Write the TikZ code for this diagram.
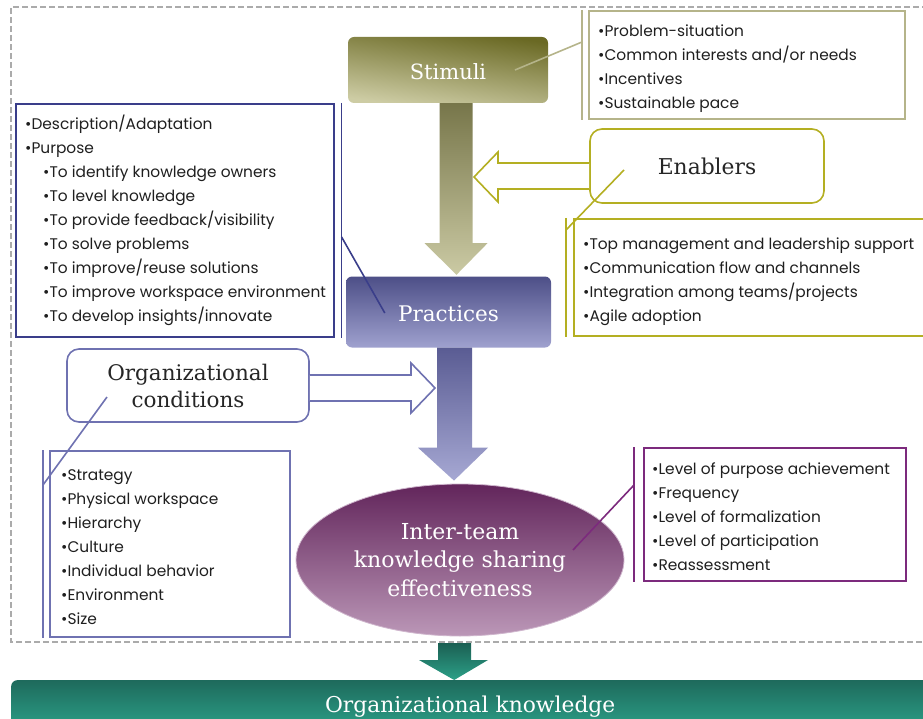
\documentclass[tikz,border=0pt]{standalone}
\usepackage{fontspec}
\setmainfont{DejaVu Serif}
\newfontfamily\listfont{Poppins}
\usetikzlibrary{calc,shapes.geometric}

\definecolor{stimdark}{HTML}{6A6924}
\definecolor{stimlight}{HTML}{CDCCA4}
\definecolor{stimline}{HTML}{B5B48A}
\definecolor{arrowolivetop}{HTML}{77764A}
\definecolor{arrowolivebot}{HTML}{CBCAA4}
\definecolor{enabcol}{HTML}{B4AF22}
\definecolor{pracdark}{HTML}{4D4F87}
\definecolor{praclight}{HTML}{9FA1CF}
\definecolor{navyline}{HTML}{3A3E8A}
\definecolor{orgline}{HTML}{6F72B1}
\definecolor{arrowbluetop}{HTML}{5A5C93}
\definecolor{arrowbluebot}{HTML}{A6A8D3}
\definecolor{ellipsedark}{HTML}{62255B}
\definecolor{ellipselight}{HTML}{BB97B7}
\definecolor{effline}{HTML}{7C2A7D}
\definecolor{tealdark}{HTML}{1E6A5C}
\definecolor{teallight}{HTML}{2CA088}
\definecolor{bordergray}{HTML}{ABABAB}

\newcommand{\bl}{\textbullet}
\newcommand{\sub}{\hspace*{18pt}\textbullet}

\tikzset{
  headtext/.style={font=\fontsize{21.5}{27}\selectfont},
  listframe/.style={draw, line width=1.6pt, anchor=north west, fill=white, inner sep=0pt},
  listtext/.style={anchor=west, align=left, inner sep=0pt,
    font=\listfont\fontsize{15.4}{24}\selectfont, text=black!88},
  lowered/.style={execute at begin node={\vspace*{#1}}},
  sidebar/.style={line width=1.6pt},
  linkline/.style={line width=1.6pt},
  hollowarrow/.style={line width=1.6pt, fill=white, line join=miter},
}

\begin{document}
\begin{tikzpicture}[x=1pt,y=-1pt]
\useasboundingbox (0,0) rectangle (923,719);
\clip (0,0) rectangle (923,719);

% dashed frame around the model
\draw[bordergray, line width=1.2pt, dash pattern=on 6pt off 3pt]
  (940,642) -- (11,642) -- (11,7) -- (940,7);

% ---- main boxes ----
\node[headtext, text=white, rounded corners=6pt, minimum width=200pt, minimum height=66pt,
  top color=stimdark, bottom color=stimlight, shading angle=-8, text height=19pt, text depth=0pt,
  font=\fontsize{21}{27}\selectfont] (stim) at (448,70) {Stimuli};
\node[headtext, text=white, rounded corners=6pt, minimum width=205pt, minimum height=71pt,
  top color=pracdark, bottom color=praclight, text height=18pt, text depth=0pt] (prac) at (448.5,312) {Practices};
\node[headtext, text=black!85, rounded corners=12pt, draw=enabcol, line width=1.6pt, fill=white,
  minimum width=234pt, minimum height=74pt, font=\fontsize{21.8}{27}\selectfont] (enab) at (707,166) {Enablers};
\node[headtext, text=black!85, rounded corners=12pt, draw=orgline, line width=1.6pt, fill=white,
  minimum width=242pt, minimum height=73pt, align=center, lowered=9pt] (orgc) at (188,385.5) {Organizational\\conditions};
\node[headtext, text=white, ellipse, minimum width=328pt, minimum height=152pt, align=center,
  top color=ellipsedark, bottom color=ellipselight, draw=ellipselight!70!white, line width=0.8pt,
  font=\fontsize{22}{28.5}\selectfont, lowered=6pt] (eff) at (460,560)
  {Inter-team\\knowledge sharing\\effectiveness};
\node[headtext, text=white, rounded corners=6pt, anchor=north west, minimum width=918pt, minimum height=50pt,
  top color=tealdark, bottom color=teallight, text height=18pt, text depth=4pt,
  font=\fontsize{21.8}{24}\selectfont] (orgk) at (11,680)
  {Organizational knowledge};

% ---- block arrows ----
\shade[top color=arrowolivetop, bottom color=arrowolivebot]
  ($(stim.south)+(-8.5,0)$) -- ++(33,0) -- ++(0,140) -- ++(15,0) -- ($(prac.north)+(8,-1.5)$)
  -- ($(stim.south)+(-23.5,140)$) -- ++(15,0) -- cycle;
\shade[top color=arrowbluetop, bottom color=arrowbluebot]
  ($(prac.south)+(-11.5,0)$) -- ++(35,0) -- ++(0,100) -- ++(16,0) -- ($(eff.north)+(-6,-3)$)
  -- ($(prac.south)+(-30.5,100)$) -- ++(19,0) -- cycle;
\coordinate (tealtop) at (454.5,643);
\shade[top color=tealdark!90!black, bottom color=teallight]
  ($(tealtop)+(-16.5,0)$) -- ++(33,0) -- ++(0,17) -- ++(17,0) -- ($(orgk.north)+(-16,0)$)
  -- ($(tealtop)+(-35.5,17)$) -- ++(19,0) -- cycle;

\draw[hollowarrow, draw=enabcol]
  (enab.west |- 0,163) -- (498,163) -- (498,152) -- (474,177) -- (498,202) -- (498,189) -- (enab.west |- 0,189);
\draw[hollowarrow, draw=orgline]
  (orgc.east |- 0,375) -- (411,375) -- (411,363) -- (435,388) -- (411,413) -- (411,401) -- (orgc.east |- 0,401);

% ---- lists: frame, then text ----
\node[listframe, draw=stimline, minimum width=316pt, minimum height=108pt] (slist) at (588,10) {};
\node[listtext] (slistt) at ($(slist.west)+(10,4)$)
  {\bl Problem-situation\\ \bl Common interests and/or needs\\ \bl Incentives\\ \bl Sustainable pace};

\node[listframe, draw=enabcol, minimum width=380pt, minimum height=117pt] (elist) at (573,218) {};
\node[listtext] (elistt) at ($(elist.west)+(10,4.5)$)
  {\bl Top management and leadership support\\ \bl Communication flow and channels\\
   \bl Integration among teams/projects\\ \bl Agile adoption};

\node[listframe, draw=navyline, minimum width=318pt, minimum height=233pt] (plist) at (15,103) {};
\node[listtext] (plistt) at ($(plist.west)+(10,0.5)$)
  {\bl Description/Adaptation\\ \bl Purpose\\
   \sub To identify knowledge owners\\
   \sub To level knowledge\\
   \sub To provide feedback/visibility\\
   \sub To solve problems\\
   \sub To improve/reuse solutions\\
   \sub To improve workspace environment\\
   \sub To develop insights/innovate};

\node[listframe, draw=orgline, minimum width=240pt, minimum height=186pt] (olist) at (49,450) {};
\node[listtext] (olistt) at ($(olist.west)+(12,3)$)
  {\bl Strategy\\ \bl Physical workspace\\ \bl Hierarchy\\ \bl Culture\\
   \bl Individual behavior\\ \bl Environment\\ \bl Size};

\node[listframe, draw=effline, minimum width=262pt, minimum height=133pt] (rlist) at (643,447) {};
\node[listtext] (rlistt) at ($(rlist.west)+(9,2.5)$)
  {\bl Level of purpose achievement\\ \bl Frequency\\ \bl Level of formalization\\
   \bl Level of participation\\ \bl Reassessment};

% ---- side bars of the lists ----
\draw[sidebar, stimline] ($(slist.north west)+(-6,0)$) coordinate (sbt) -- ($(slist.south west)+(-6,0)$);
\draw[sidebar, enabcol] ($(elist.north west)+(-7,0)$) coordinate (ebt) -- ($(elist.south west)+(-7,0)$);
\draw[sidebar, navyline] ($(plist.north east)+(7,0)$) coordinate (pbt) -- ($(plist.south east)+(7,0)$);
\draw[sidebar, orgline] ($(olist.north west)+(-6,0)$) coordinate (obt) -- ($(olist.south west)+(-6,0)$);
\draw[sidebar, effline] ($(rlist.north west)+(-9,0)$) coordinate (rbt) -- ($(rlist.south west)+(-9,0)$);

% ---- links from the boxes to their lists ----
\draw[linkline, stimline] ($(stim.center)+(67,0)$) -- ($(sbt)+(0,32)$);
\draw[linkline, enabcol] ($(enab.center)+(-83,4)$) -- ($(ebt)+(0,12)$);
\draw[linkline, navyline] ($(pbt)+(0,134)$) -- ($(prac.west)+(39,1)$);
\draw[linkline, orgline] ($(orgc.center)+(-81,11.5)$) -- ($(obt)+(0,35)$);
\draw[linkline, effline] ($(eff.center)+(113,-10)$) -- ($(rbt)+(0,38)$);
\end{tikzpicture}
\end{document}
